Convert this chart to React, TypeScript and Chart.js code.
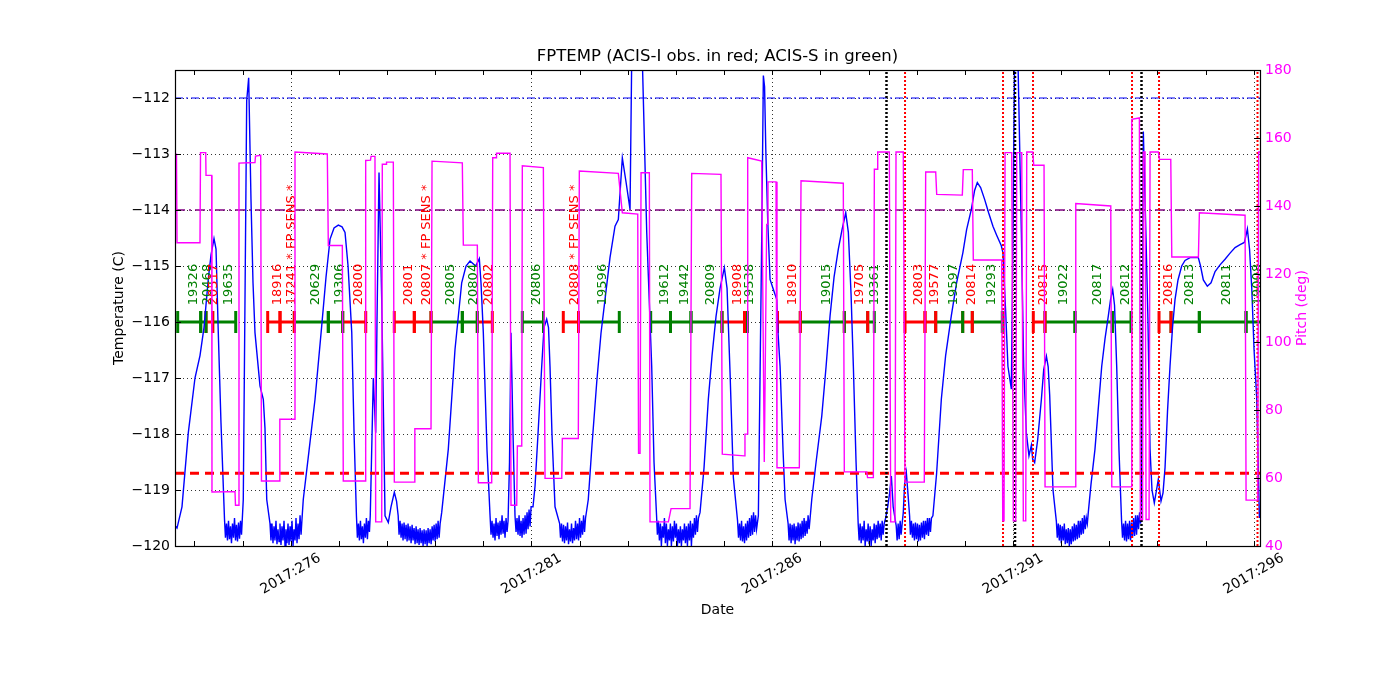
import React, { useEffect, useRef } from "react";
import { Chart, registerables } from "chart.js";

Chart.register(...registerables);

const X_MIN = 273.597;
const X_MAX = 296.13;
const TEMP_MIN = -120;
const TEMP_MAX = -111.5;
const PITCH_MIN = 40;
const PITCH_MAX = 180;
const OBS_LEVEL = -116;
const OBS_LABEL_LEVEL = -115.7;

const tempTicks = [-120, -119, -118, -117, -116, -115, -114, -113, -112];
const pitchTicks = [40, 60, 80, 100, 120, 140, 160, 180];
const xTickDays = [274, 275, 276, 277, 278, 279, 280, 281, 282, 283, 284, 285, 286, 287, 288, 289, 290, 291, 292, 293, 294, 295, 296];
const xLabelDays = [276, 281, 286, 291, 296];
const xLabels = ["2017:276", "2017:281", "2017:286", "2017:291", "2017:296"];

const hLineValues = [-112, -114, -118.7];
const redVLineDays = [288.758, 290.793, 291.416, 293.472, 294.033, 296.078];
const blackVLineDays = [288.373, 291.042, 293.669];

const tempPoints: [number, number][] = [
  [273.597, -119.64], [273.639, -119.68], [273.742, -119.3], [273.873, -117.98], [274.012, -117.0], [274.116, -116.6], [274.199, -116.1], [274.289, -115.23], [274.345, -114.8], [274.407, -114.51], [274.449, -114.7], [274.496, -116.19], [274.552, -117.8], [274.625, -119.52],
  [274.645, -119.85], [274.666, -119.6], [274.687, -119.9], [274.708, -119.55], [274.729, -119.88], [274.75, -119.65], [274.77, -119.95], [274.791, -119.6], [274.812, -119.85], [274.833, -119.5], [274.854, -119.9], [274.874, -119.62], [274.895, -119.92], [274.916, -119.58], [274.937, -119.87], [274.958, -119.55], [274.978, -119.8],
  [275.015, -119.17], [275.086, -112.05], [275.127, -111.64], [275.175, -113.81], [275.217, -115.3], [275.258, -116.19], [275.362, -117.14], [275.431, -117.38], [275.466, -117.9], [275.502, -119.17], [275.57, -119.6],
  [275.59, -119.9], [275.611, -119.6], [275.632, -119.95], [275.653, -119.65], [275.673, -119.9], [275.694, -119.55], [275.715, -119.97], [275.736, -119.7], [275.757, -119.92], [275.777, -119.6], [275.798, -119.98], [275.819, -119.65], [275.84, -119.9], [275.861, -119.55], [275.882, -120.0], [275.902, -119.7], [275.923, -119.95], [275.944, -119.6], [275.965, -119.98], [275.986, -119.65], [276.006, -119.92], [276.027, -119.55], [276.048, -120.0], [276.069, -119.7], [276.09, -119.9], [276.11, -119.5], [276.131, -119.95], [276.152, -119.6], [276.173, -119.88], [276.194, -119.45], [276.215, -119.8], [276.236, -119.5],
  [276.261, -119.17], [276.38, -118.3], [276.505, -117.38], [276.644, -116.07], [276.733, -115.2], [276.817, -114.52], [276.9, -114.32], [276.989, -114.27], [277.066, -114.3], [277.128, -114.4], [277.191, -115.0], [277.268, -116.19], [277.316, -118.0], [277.365, -119.46],
  [277.385, -119.85], [277.406, -119.6], [277.427, -119.9], [277.448, -119.55], [277.468, -119.88], [277.489, -119.65], [277.51, -119.95], [277.531, -119.6], [277.552, -119.85], [277.572, -119.5], [277.593, -119.88], [277.614, -119.55], [277.635, -119.75],
  [277.652, -119.46], [277.715, -117.0], [277.765, -117.98], [277.792, -116.0], [277.834, -113.33], [277.89, -115.6], [277.959, -119.46], [278.027, -119.58], [278.083, -119.3], [278.152, -119.04], [278.198, -119.2], [278.232, -119.46],
  [278.25, -119.8], [278.271, -119.55], [278.292, -119.85], [278.313, -119.6], [278.333, -119.9], [278.354, -119.58], [278.375, -119.88], [278.396, -119.62], [278.417, -119.92], [278.437, -119.6], [278.458, -119.9], [278.479, -119.65], [278.5, -119.95], [278.521, -119.62], [278.541, -119.9], [278.562, -119.68], [278.583, -119.97], [278.604, -119.65], [278.625, -119.95], [278.645, -119.7], [278.666, -119.98], [278.687, -119.68], [278.708, -119.95], [278.729, -119.72], [278.749, -120.0], [278.77, -119.7], [278.791, -119.97], [278.812, -119.72], [278.833, -120.0], [278.853, -119.68], [278.874, -119.95], [278.895, -119.7], [278.916, -119.97], [278.937, -119.65], [278.957, -119.9], [278.978, -119.62], [278.999, -119.92], [279.02, -119.6], [279.041, -119.88], [279.061, -119.55], [279.082, -119.85], [279.103, -119.6],
  [279.136, -119.4], [279.273, -118.27], [279.412, -116.49], [279.551, -115.3], [279.641, -115.0], [279.724, -114.91], [279.842, -115.0], [279.917, -114.87], [279.952, -115.3], [280.0, -116.19], [280.077, -118.3], [280.14, -119.46],
  [280.16, -119.8], [280.181, -119.55], [280.202, -119.85], [280.222, -119.6], [280.243, -119.9], [280.264, -119.5], [280.285, -119.82], [280.306, -119.58], [280.326, -119.88], [280.347, -119.55], [280.368, -119.8], [280.389, -119.45], [280.41, -119.78], [280.43, -119.55], [280.451, -119.85], [280.472, -119.5], [280.493, -119.75], [280.514, -119.55],
  [280.544, -118.5], [280.575, -116.19], [280.617, -118.0], [280.658, -119.46],
  [280.68, -119.75], [280.7, -119.5], [280.721, -119.8], [280.742, -119.45], [280.763, -119.82], [280.784, -119.55], [280.804, -119.85], [280.825, -119.5], [280.846, -119.8], [280.867, -119.45], [280.888, -119.78], [280.908, -119.4], [280.929, -119.7], [280.95, -119.35], [280.971, -119.65], [280.992, -119.3],
  [281.032, -119.3], [281.074, -118.93], [281.136, -118.0], [281.213, -116.79], [281.26, -116.1], [281.316, -115.95], [281.354, -116.1], [281.385, -116.79], [281.426, -118.0], [281.489, -119.3], [281.585, -119.6],
  [281.603, -119.85], [281.624, -119.6], [281.645, -119.92], [281.666, -119.62], [281.686, -119.95], [281.707, -119.65], [281.728, -119.9], [281.749, -119.58], [281.77, -119.97], [281.79, -119.7], [281.811, -119.92], [281.832, -119.6], [281.853, -119.95], [281.874, -119.68], [281.894, -119.9], [281.915, -119.55], [281.936, -119.88], [281.957, -119.6], [281.978, -119.9], [281.998, -119.5], [282.019, -119.85], [282.04, -119.55], [282.061, -119.8], [282.082, -119.45], [282.102, -119.75], [282.123, -119.5],
  [282.18, -119.17], [282.257, -118.2], [282.355, -117.08], [282.444, -116.2], [282.527, -115.6], [282.631, -114.85], [282.735, -114.29], [282.804, -114.17], [282.839, -113.7], [282.887, -113.07], [282.964, -113.5], [283.047, -113.99], [283.082, -111.3], [283.302, -111.3], [283.394, -114.4], [283.497, -116.79], [283.545, -118.5], [283.598, -119.46],
  [283.615, -119.8], [283.636, -119.55], [283.657, -119.9], [283.678, -119.6], [283.698, -120.0], [283.719, -119.65], [283.74, -119.85], [283.761, -119.5], [283.781, -119.95], [283.802, -119.6], [283.823, -120.0], [283.844, -119.7], [283.865, -119.9], [283.885, -119.6], [283.906, -120.0], [283.927, -119.65], [283.948, -119.92], [283.969, -119.55], [283.989, -119.85], [284.01, -119.6], [284.031, -120.0], [284.052, -119.7], [284.073, -119.95], [284.093, -119.65], [284.114, -120.0], [284.135, -119.7], [284.156, -119.9], [284.177, -119.6], [284.197, -119.95], [284.218, -119.65], [284.239, -120.0], [284.26, -119.6], [284.281, -119.9], [284.301, -119.55], [284.322, -120.0], [284.343, -119.6], [284.364, -119.85], [284.385, -119.5], [284.405, -119.8], [284.426, -119.45], [284.447, -119.75], [284.468, -119.5],
  [284.501, -119.4], [284.584, -118.6], [284.673, -117.38], [284.75, -116.6], [284.833, -115.9], [284.916, -115.4], [285.006, -115.03], [285.062, -115.4], [285.124, -116.9], [285.193, -118.78], [285.28, -119.55],
  [285.3, -119.85], [285.321, -119.6], [285.342, -119.9], [285.363, -119.55], [285.383, -119.92], [285.404, -119.65], [285.425, -119.95], [285.446, -119.6], [285.467, -119.9], [285.487, -119.55], [285.508, -119.85], [285.529, -119.5], [285.55, -119.82], [285.571, -119.45], [285.591, -119.8], [285.612, -119.4], [285.633, -119.75], [285.654, -119.45], [285.675, -119.7],
  [285.712, -119.46], [285.783, -114.4], [285.816, -111.6], [285.841, -111.8], [285.866, -112.9], [285.907, -114.2], [285.955, -115.24], [286.024, -115.42], [286.094, -115.6], [286.121, -116.2], [286.163, -116.79], [286.225, -118.3], [286.267, -119.17], [286.33, -119.6],
  [286.35, -119.9], [286.371, -119.6], [286.392, -119.95], [286.413, -119.62], [286.433, -119.9], [286.454, -119.6], [286.475, -119.97], [286.496, -119.65], [286.517, -119.9], [286.537, -119.58], [286.558, -119.92], [286.579, -119.6], [286.6, -119.88], [286.621, -119.55], [286.641, -119.85], [286.662, -119.5], [286.683, -119.82], [286.704, -119.55], [286.725, -119.78], [286.745, -119.45], [286.766, -119.7], [286.787, -119.5],
  [286.821, -119.17], [286.911, -118.5], [287.029, -117.68], [287.118, -116.8], [287.201, -115.89], [287.284, -115.2], [287.373, -114.7], [287.45, -114.35], [287.527, -114.05], [287.581, -114.4], [287.637, -115.5], [287.685, -116.79], [287.741, -118.5], [287.785, -119.6],
  [287.805, -119.9], [287.826, -119.6], [287.847, -119.95], [287.868, -119.65], [287.888, -119.9], [287.909, -119.55], [287.93, -120.0], [287.951, -119.7], [287.972, -119.92], [287.992, -119.6], [288.013, -119.97], [288.034, -119.65], [288.055, -120.0], [288.076, -119.7], [288.096, -119.9], [288.117, -119.6], [288.138, -119.95], [288.159, -119.62], [288.179, -119.88], [288.2, -119.55], [288.221, -119.85], [288.242, -119.6], [288.263, -119.9], [288.283, -119.55], [288.304, -119.8], [288.325, -119.6],
  [288.356, -119.5], [288.398, -119.3], [288.439, -119.05], [288.474, -118.75], [288.512, -119.3], [288.575, -119.64],
  [288.594, -119.9], [288.615, -119.6], [288.636, -119.88], [288.657, -119.55], [288.677, -119.8], [288.698, -119.6],
  [288.722, -119.4], [288.749, -118.9], [288.785, -118.69], [288.822, -119.1], [288.853, -119.46],
  [288.87, -119.8], [288.891, -119.55], [288.912, -119.85], [288.933, -119.6], [288.953, -119.9], [288.974, -119.58], [288.995, -119.88], [289.016, -119.6], [289.037, -119.92], [289.057, -119.62], [289.078, -119.9], [289.099, -119.58], [289.12, -119.85], [289.141, -119.55], [289.161, -119.88], [289.182, -119.55], [289.203, -119.8], [289.224, -119.5], [289.245, -119.82], [289.265, -119.5], [289.286, -119.75], [289.307, -119.5],
  [289.337, -119.46], [289.414, -118.7], [289.512, -117.38], [289.601, -116.6], [289.719, -115.89], [289.829, -115.3], [289.96, -114.76], [290.037, -114.35], [290.135, -113.99], [290.203, -113.65], [290.259, -113.51], [290.328, -113.6], [290.411, -113.81], [290.494, -114.05], [290.584, -114.29], [290.661, -114.45], [290.758, -114.64], [290.791, -114.76], [290.847, -115.8], [290.895, -116.79], [290.966, -117.2], [290.993, -115.0], [291.034, -111.3], [291.103, -111.3], [291.174, -114.4], [291.222, -116.8], [291.278, -117.98], [291.332, -118.39], [291.382, -118.2], [291.409, -118.45], [291.45, -118.51], [291.513, -118.1], [291.59, -117.38], [291.638, -116.85], [291.694, -116.61], [291.731, -116.8], [291.762, -117.3], [291.831, -119.0], [291.9, -119.55],
  [291.92, -119.85], [291.941, -119.6], [291.962, -119.9], [291.982, -119.62], [292.003, -119.95], [292.024, -119.65], [292.045, -119.9], [292.066, -119.6], [292.086, -119.97], [292.107, -119.7], [292.128, -119.95], [292.149, -119.68], [292.17, -120.0], [292.19, -119.7], [292.211, -119.97], [292.232, -119.65], [292.253, -119.92], [292.274, -119.6], [292.294, -119.9], [292.315, -119.62], [292.336, -119.88], [292.357, -119.55], [292.378, -119.85], [292.398, -119.55], [292.419, -119.8], [292.44, -119.5], [292.461, -119.78], [292.482, -119.45], [292.502, -119.7], [292.523, -119.5], [292.544, -119.6],
  [292.564, -119.4], [292.62, -118.9], [292.703, -118.27], [292.766, -117.6], [292.843, -116.79], [292.911, -116.3], [292.98, -115.89], [293.026, -115.6], [293.071, -115.42], [293.109, -115.7], [293.154, -116.79], [293.202, -118.3], [293.255, -119.55],
  [293.275, -119.85], [293.296, -119.6], [293.317, -119.9], [293.338, -119.55], [293.358, -119.92], [293.379, -119.6], [293.4, -119.88], [293.421, -119.55], [293.442, -119.9], [293.462, -119.58], [293.483, -119.85], [293.504, -119.5], [293.525, -119.82], [293.546, -119.45], [293.566, -119.8], [293.587, -119.45], [293.608, -119.7], [293.629, -119.4], [293.65, -119.6],
  [293.673, -118.9], [293.707, -112.6], [293.763, -114.5], [293.804, -116.0], [293.846, -118.27], [293.887, -119.0], [293.935, -119.23], [293.981, -119.0], [294.018, -118.81], [294.074, -119.2], [294.116, -119.05], [294.158, -118.6], [294.209, -117.6], [294.261, -116.79], [294.313, -116.1], [294.365, -115.6], [294.427, -115.25], [294.504, -115.0], [294.573, -114.9], [294.677, -114.85], [294.781, -114.85], [294.849, -114.85], [294.895, -115.0], [294.953, -115.25], [295.036, -115.36], [295.113, -115.3], [295.197, -115.1], [295.3, -114.98], [295.404, -114.88], [295.508, -114.77], [295.612, -114.67], [295.716, -114.62], [295.805, -114.58], [295.841, -114.45], [295.868, -114.34], [295.913, -114.7], [295.959, -115.4], [296.007, -116.5], [296.063, -117.38], [296.117, -119.5],
];

const pitchPoints: [number, number][] = [
  [273.597, 155.2], [273.628, 155.2], [273.639, 129.2], [274.116, 129.2], [274.127, 155.7], [274.235, 155.7], [274.241, 149.0], [274.359, 149.0], [274.365, 55.9], [274.843, 56.0], [274.853, 52.0], [274.911, 52.0], [274.926, 152.6], [275.258, 152.8], [275.269, 154.7], [275.377, 154.9], [275.393, 59.1], [275.763, 59.1], [275.774, 77.3], [276.075, 77.3], [276.089, 155.9], [276.76, 155.3], [276.781, 128.4], [277.072, 128.4], [277.092, 59.1], [277.549, 59.1], [277.557, 153.4], [277.657, 153.5], [277.668, 154.6], [277.75, 154.6], [277.765, 47.1], [277.89, 47.1], [277.902, 152.3], [277.979, 152.3], [277.99, 152.9], [278.131, 152.9], [278.152, 58.8], [278.567, 58.8], [278.578, 74.5], [278.914, 74.5], [278.935, 153.2], [279.564, 152.7], [279.585, 128.5], [279.876, 128.5], [279.897, 58.6], [280.174, 58.6], [280.195, 154.2], [280.264, 154.2], [280.274, 155.5], [280.555, 155.5], [280.575, 52.0], [280.694, 52.0], [280.707, 69.4], [280.798, 69.4], [280.81, 151.8], [281.247, 151.3], [281.282, 59.9], [281.629, 59.9], [281.641, 71.6], [281.973, 71.6], [281.994, 150.3], [282.804, 149.6], [282.887, 138.0], [283.207, 137.6], [283.224, 67.3], [283.255, 67.3], [283.276, 149.8], [283.448, 149.8], [283.462, 47.1], [283.843, 47.1], [283.899, 51.0], [284.293, 51.0], [284.328, 149.6], [284.936, 149.3], [284.963, 67.0], [285.42, 66.5], [285.434, 72.9], [285.482, 72.9], [285.491, 154.2], [285.781, 153.2], [285.835, 64.7], [285.885, 134.6], [285.902, 134.6], [285.912, 147.1], [286.079, 147.1], [286.099, 63.0], [286.563, 63.0], [286.598, 147.4], [287.476, 146.7], [287.497, 61.8], [287.963, 61.8], [287.98, 60.1], [288.1, 60.1], [288.121, 150.8], [288.177, 150.8], [288.191, 155.9], [288.432, 155.9], [288.461, 47.1], [288.55, 47.1], [288.571, 155.9], [288.722, 155.9], [288.757, 58.8], [289.158, 58.8], [289.187, 150.0], [289.395, 150.0], [289.416, 143.4], [289.948, 143.2], [289.968, 150.7], [290.155, 150.7], [290.176, 124.1], [290.766, 124.1], [290.787, 47.4], [290.814, 47.4], [290.835, 155.7], [290.974, 155.7], [291.007, 47.4], [291.057, 47.4], [291.078, 155.7], [291.182, 155.7], [291.215, 47.4], [291.265, 47.4], [291.286, 155.9], [291.41, 155.9], [291.431, 152.0], [291.645, 152.0], [291.666, 57.4], [292.289, 57.4], [292.304, 140.7], [293.031, 140.0], [293.052, 57.4], [293.453, 57.4], [293.467, 165.5], [293.625, 165.9], [293.646, 47.8], [293.692, 47.8], [293.708, 155.9], [293.743, 155.9], [293.764, 47.8], [293.826, 47.8], [293.847, 155.9], [294.019, 155.9], [294.04, 153.7], [294.277, 153.7], [294.298, 125.0], [294.851, 125.0], [294.871, 138.0], [295.82, 137.3], [295.841, 53.5], [296.084, 53.5], [296.101, 155.9], [296.132, 155.9],
];

const obsIds = ["19326", "20468", "20517", "19635", "18916", "17241 * FP SENS *", "20629", "19306", "20800", "20801", "20807 * FP SENS *", "20805", "20804", "20802", "20806", "20808 * FP SENS *", "19596", "19612", "19442", "20809", "18908", "19538", "18910", "19015", "19705", "19361", "20803", "19577", "19597", "20814", "19293", "20815", "19022", "20817", "20812", "20816", "20813", "20811", "19008"];
const obsInstr = ["S", "S", "I", "S", "I", "I", "S", "S", "I", "I", "I", "S", "S", "I", "S", "I", "S", "S", "S", "S", "I", "S", "I", "S", "I", "S", "I", "I", "S", "I", "S", "I", "S", "S", "S", "I", "S", "S", "S"];
const obsStart = [273.653, 274.131, 274.241, 274.38, 275.522, 275.778, 276.075, 276.781, 277.08, 278.151, 278.567, 278.914, 279.564, 279.875, 280.81, 281.661, 281.977, 283.476, 283.888, 284.313, 284.957, 285.424, 286.11, 286.583, 287.497, 287.983, 288.758, 289.173, 289.395, 289.956, 290.155, 291.422, 291.665, 292.288, 293.063, 294.033, 294.282, 294.87, 295.84];
const obsStop = [274.131, 274.241, 274.38, 274.858, 275.778, 276.075, 276.781, 277.08, 277.558, 278.567, 278.914, 279.564, 279.875, 280.187, 281.25, 281.977, 282.824, 283.888, 284.313, 284.957, 285.424, 285.487, 286.583, 287.497, 287.983, 288.12, 289.173, 289.395, 289.956, 290.155, 290.778, 291.665, 292.288, 293.063, 293.451, 294.282, 294.87, 295.84, 296.172];

const RED = "#ff0000";
const GREEN = "#008000";
const MAGENTA = "#ff00ff";
const BLUE = "#0000ff";
const FONT = "'DejaVu Sans', 'Liberation Sans', sans-serif";

const hLineStyles = [
  { color: BLUE, width: 1, dash: [8, 3, 2, 3] },
  { color: "#800080", width: 1.5, dash: [10, 4, 2, 4] },
  { color: RED, width: 3, dash: [9, 6] },
];

function buildDatasets() {
  const ds: any[] = [];
  ds.push({
    label: "pitch",
    yAxisID: "y2",
    data: pitchPoints.map(([x, y]) => ({ x, y })),
    borderColor: MAGENTA,
    borderWidth: 1.4,
    pointRadius: 0,
    tension: 0,
    clip: 0,
  });
  redVLineDays.forEach((d) => {
    ds.push({
      yAxisID: "y",
      data: [{ x: d, y: TEMP_MIN }, { x: d, y: TEMP_MAX }],
      borderColor: RED,
      borderWidth: 2,
      borderDash: [2, 2],
      pointRadius: 0,
      clip: 0,
    });
  });
  blackVLineDays.forEach((d) => {
    ds.push({
      yAxisID: "y",
      data: [{ x: d, y: TEMP_MIN }, { x: d, y: TEMP_MAX }],
      borderColor: "#000000",
      borderWidth: 2.5,
      borderDash: [2, 2],
      pointRadius: 0,
      clip: 0,
    });
  });
  hLineValues.forEach((v, i) => {
    ds.push({
      yAxisID: "y",
      data: [{ x: X_MIN, y: v }, { x: X_MAX, y: v }],
      borderColor: hLineStyles[i].color,
      borderWidth: hLineStyles[i].width,
      borderDash: hLineStyles[i].dash,
      pointRadius: 0,
      clip: 0,
    });
  });
  ds.push({
    label: "temp",
    yAxisID: "y",
    data: tempPoints.map(([x, y]) => ({ x, y })),
    borderColor: BLUE,
    borderWidth: 1.4,
    pointRadius: 0,
    tension: 0,
    clip: 0,
  });
  obsIds.forEach((id, i) => {
    const c = obsInstr[i] === "I" ? RED : GREEN;
    ds.push({
      yAxisID: "y",
      data: [{ x: obsStart[i], y: OBS_LEVEL }, { x: obsStop[i], y: OBS_LEVEL }],
      borderColor: c,
      borderWidth: 3,
      pointStyle: "line",
      pointRotation: 90,
      pointRadius: 11,
      pointBorderWidth: 3,
      pointBorderColor: c,
      pointBackgroundColor: c,
      clip: 0,
    });
  });
  return ds;
}

function line(ctx: CanvasRenderingContext2D, x1: number, y1: number, x2: number, y2: number) {
  ctx.beginPath();
  ctx.moveTo(x1, y1);
  ctx.lineTo(x2, y2);
  ctx.stroke();
}

const decorPlugin = {
  id: "decor",
  beforeDatasetsDraw(chart: any) {
    const { ctx, chartArea: a, scales } = chart;
    const x = scales.x;
    const y = scales.y;
    ctx.save();
    ctx.strokeStyle = "#000";
    ctx.lineWidth = 0.8;
    ctx.setLineDash([1, 3]);
    tempTicks.forEach((t) => {
      const py = Math.round(y.getPixelForValue(t)) + 0.5;
      if (py <= a.top + 1 || py >= a.bottom - 1) return;
      line(ctx, a.left, py, a.right, py);
    });
    xLabelDays.forEach((d) => {
      const px = Math.round(x.getPixelForValue(d)) + 0.5;
      if (px <= a.left + 1 || px >= a.right - 1) return;
      line(ctx, px, a.top, px, a.bottom);
    });
    ctx.restore();
  },
  afterDatasetDraw(chart: any, args: any) {
    if (args.index !== 1) return;
    const { ctx, scales } = chart;
    const x = scales.x;
    const y = scales.y;
    ctx.save();
    ctx.font = `13px ${FONT}`;
    ctx.textAlign = "left";
    ctx.textBaseline = "middle";
    obsIds.forEach((id, i) => {
      const mid = (obsStart[i] + obsStop[i]) / 2;
      const px = x.getPixelForValue(mid) + 4;
      const py = y.getPixelForValue(OBS_LABEL_LEVEL);
      ctx.save();
      ctx.translate(px, py);
      ctx.rotate(-Math.PI / 2);
      ctx.fillStyle = obsInstr[i] === "I" ? RED : GREEN;
      ctx.fillText(id, 0, 0);
      ctx.restore();
    });
    ctx.restore();
  },
  afterDraw(chart: any) {
    const { ctx, chartArea: a, scales } = chart;
    const x = scales.x;
    const y = scales.y;
    const y2 = scales.y2;
    ctx.save();
    ctx.setLineDash([]);
    ctx.strokeStyle = "#000";
    ctx.lineWidth = 1;
    xTickDays.forEach((d) => {
      const px = Math.round(x.getPixelForValue(d)) + 0.5;
      line(ctx, px, a.bottom, px, a.bottom - 5);
      line(ctx, px, a.top, px, a.top + 5);
    });
    tempTicks.forEach((t) => {
      const py = Math.round(y.getPixelForValue(t)) + 0.5;
      line(ctx, a.left, py, a.left + 6, py);
    });
    pitchTicks.forEach((p) => {
      const py = Math.round(y2.getPixelForValue(p)) + 0.5;
      line(ctx, a.right, py, a.right - 6, py);
    });
    ctx.lineWidth = 1.2;
    ctx.strokeRect(Math.round(a.left) + 0.5, Math.round(a.top) + 0.5, Math.round(a.right - a.left), Math.round(a.bottom - a.top));

    ctx.font = `14px ${FONT}`;
    ctx.fillStyle = "#000";
    ctx.textAlign = "right";
    ctx.textBaseline = "middle";
    tempTicks.forEach((t) => {
      ctx.fillText(String(t).replace("-", "\u2212"), a.left - 5, y.getPixelForValue(t));
    });
    ctx.fillStyle = MAGENTA;
    ctx.textAlign = "left";
    pitchTicks.forEach((p) => {
      ctx.fillText(String(p), a.right + 5, y2.getPixelForValue(p));
    });
    ctx.fillStyle = "#000";
    ctx.textAlign = "center";
    xLabelDays.forEach((d, i) => {
      const px = x.getPixelForValue(d);
      ctx.save();
      ctx.translate(px, a.bottom + 28);
      ctx.rotate(-Math.PI / 6);
      ctx.fillText(xLabels[i], 0, 0);
      ctx.restore();
    });

    const cx = (a.left + a.right) / 2;
    const cy = (a.top + a.bottom) / 2;
    ctx.fillText("Date", cx, a.bottom + 64);
    ctx.save();
    ctx.translate(a.left - 56, cy);
    ctx.rotate(-Math.PI / 2);
    ctx.fillText("Temperature (C)", 0, 0);
    ctx.restore();
    ctx.save();
    ctx.fillStyle = MAGENTA;
    ctx.translate(a.right + 42, cy);
    ctx.rotate(-Math.PI / 2);
    ctx.fillText("Pitch (deg)", 0, 0);
    ctx.restore();

    ctx.font = `16.5px ${FONT}`;
    ctx.fillText("FPTEMP (ACIS-I obs. in red; ACIS-S in green)", cx, a.top - 13);
    ctx.restore();
  },
};

export default function App() {
  const ref = useRef<HTMLCanvasElement | null>(null);
  useEffect(() => {
    const canvas = ref.current;
    if (!canvas) return;
    const chart = new Chart(canvas, {
      type: "line",
      data: { datasets: buildDatasets() },
      options: {
        responsive: false,
        devicePixelRatio: 1,
        animation: false,
        events: [],
        layout: { padding: { top: 70, left: 0, right: 0, bottom: 0 } },
        plugins: { legend: { display: false }, tooltip: { enabled: false }, title: { display: false } },
        scales: {
          x: {
            type: "linear",
            min: X_MIN,
            max: X_MAX,
            grid: { display: false },
            border: { display: false },
            ticks: { display: false },
            afterFit: (s: any) => { s.height = 154; },
          },
          y: {
            type: "linear",
            position: "left",
            min: TEMP_MIN,
            max: TEMP_MAX,
            grid: { display: false },
            border: { display: false },
            ticks: { display: false },
            afterFit: (s: any) => { s.width = 175; },
          },
          y2: {
            type: "linear",
            position: "right",
            min: PITCH_MIN,
            max: PITCH_MAX,
            grid: { display: false },
            border: { display: false },
            ticks: { display: false },
            afterFit: (s: any) => { s.width = 140; },
          },
        },
      } as any,
      plugins: [decorPlugin as any],
    });
    return () => chart.destroy();
  }, []);
  return (
    <div style={{ position: "absolute", left: 0, top: 0, width: 1400, height: 700, background: "#fff" }}>
      <canvas ref={ref} width={1400} height={700} style={{ display: "block", width: 1400, height: 700 }} />
    </div>
  );
}
